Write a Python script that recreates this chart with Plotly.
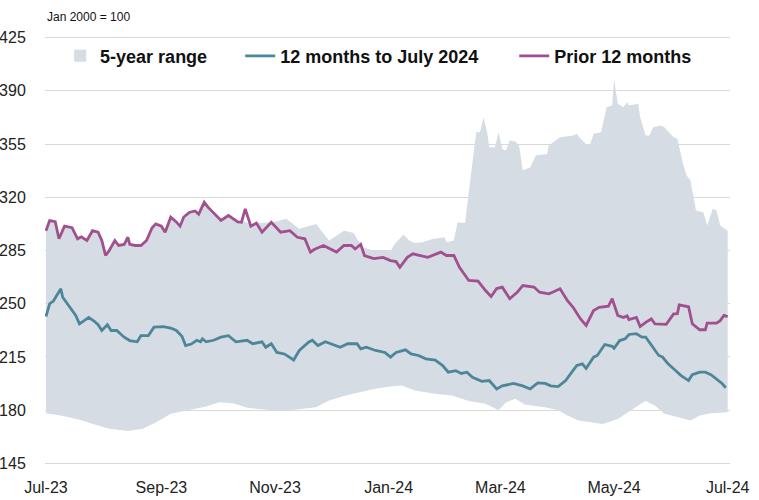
import pandas as pd
import plotly.graph_objects as go

BASE = pd.Timestamp("2023-07-01")

# Prior 12 months (days since 1 Jul 2023, index Jan 2000 = 100)
prior_days = [0, 2, 5, 7, 10, 14, 17, 19, 22, 25, 28, 30, 32, 34, 37, 39, 42, 44, 45, 48,
              51, 54, 57, 59, 62, 64, 67, 70, 72, 74, 77, 80, 82, 85, 87, 90, 94, 98, 103, 105,
              107, 110, 113, 116, 121, 126, 131, 135, 139, 142, 144, 149, 152, 156, 160, 164, 166, 169, 171, 176,
              181, 185, 188, 190, 194, 197, 201, 205, 212, 215, 219, 222, 227, 232, 236, 239, 242, 245, 249, 253,
              256, 262, 265, 270, 272, 276, 280, 283, 287, 290, 294, 297, 302, 304, 307, 310, 312, 313, 317, 319,
              322, 325, 327, 333, 337, 339, 340, 345, 347, 351, 354, 355, 360, 362, 364, 366]
prior_vals = [298, 304.7, 304, 292.7, 301, 300, 292.7, 294, 291.6, 298, 297, 291.6, 281.7, 285, 291.6, 288.3, 289, 293.7, 289, 288.3,
              288.3, 291.6, 300, 302.5, 301, 297, 306.9, 303.8, 301, 307, 310, 311, 308.9, 316.7, 313.5, 309.5, 304.7, 308, 303.8, 303.6,
              312.4, 301, 303, 297, 303.6, 297, 298, 293.7, 292.7, 283.9, 285.6, 288.3, 286.5, 284, 288.3, 288.3, 286, 289, 281.7, 279.7,
              280.5, 278.4, 277.7, 274, 280.5, 282.8, 281.7, 280.5, 283.9, 281.7, 281.7, 274, 265.3, 264.9, 258.7, 254.8, 260, 260.9, 253.3, 257.5,
              262, 261, 257.6, 256.5, 257.6, 259.8, 252, 247.7, 240, 235.7, 245.5, 247.7, 248.4, 253.3, 242.3, 241, 242, 239.6, 241, 235,
              237.8, 240, 236.7, 236.4, 243.3, 243.5, 249.3, 248, 236.8, 232.9, 232.9, 237.3, 237.3, 238.9, 242.3, 241.5]

# 12 months to July 2024
recent_days = [0, 2, 4, 8, 9, 13, 16, 18, 20, 23, 26, 28, 30, 33, 35, 38, 42, 45, 49, 51,
               55, 58, 63, 67, 70, 73, 75, 78, 81, 83, 84, 86, 90, 94, 98, 102, 108, 111, 116, 118,
               121, 124, 128, 133, 136, 141, 143, 146, 150, 153, 158, 162, 167, 169, 172, 177, 182, 185, 188, 193,
               196, 200, 204, 209, 213, 216, 220, 223, 226, 229, 234, 238, 242, 245, 251, 256, 260, 264, 268, 271,
               275, 279, 281, 285, 288, 290, 294, 296, 300, 304, 305, 308, 311, 313, 317, 320, 322, 325, 329, 331,
               334, 338, 341, 345, 347, 351, 354, 357, 360, 363, 365]
recent_vals = [241.6, 250, 251.8, 259.8, 254.3, 247.7, 242.3, 236.8, 238.5, 241, 238.5, 236.2, 232.4, 236.2, 232.4, 232.4, 228, 225.8, 225, 229,
               229, 234.6, 235, 234, 232.4, 228.6, 222.5, 223.5, 226, 225, 227, 225, 226, 228, 229, 225, 226, 223.7, 225, 221.4,
               223.7, 218, 217, 213, 219.3, 224.7, 226, 222.5, 225, 223.7, 221.4, 223.7, 223.7, 220.3, 221.4, 219.3, 218, 214.9, 218, 219.7,
               217, 216, 213.8, 213, 209.4, 205, 206, 204.2, 205, 201.7, 199, 199.5, 194, 196, 197.6, 196, 194, 198, 197.6, 196,
               195.5, 199.5, 202.8, 209.4, 210.5, 207.5, 214.9, 216, 223.2, 222, 220.7, 225.8, 227, 229.8, 230.3, 228, 228, 222.5, 216, 215,
               210.5, 206.1, 202.8, 199.5, 203.4, 205, 205, 203.4, 200.6, 197.6, 194.8]

# 5-year range: upper bound
upper_days = [0, 2, 5, 7, 10, 14, 17, 19, 22, 25, 28, 30, 32, 34, 37, 39, 42, 44, 45, 48,
              51, 54, 57, 59, 62, 64, 67, 70, 72, 74, 77, 80, 82, 85, 87, 90, 94, 98, 103, 107,
              110, 113, 122, 129, 136, 145, 152, 160, 165, 170, 176, 185, 187, 192, 195, 198, 202, 208, 214, 215,
              219, 221, 225, 228, 229, 231, 233, 235, 237, 238, 241, 243, 245, 247, 249, 252, 254, 256, 260, 263,
              269, 270, 276, 283, 285, 287, 290, 292, 294, 298, 301, 304, 305, 307, 310, 312, 313, 318, 319, 322,
              324, 326, 330, 332, 337, 339, 342, 344, 346, 349, 353, 355, 358, 360, 362, 366]
upper_vals = [297, 304, 303.5, 292.5, 300.5, 299.5, 292.5, 293.5, 291, 297.5, 296.5, 291, 281.5, 284.5, 291, 288, 288.5, 293, 288.5, 288,
              288, 291, 299.5, 302, 300.5, 296.5, 306, 303, 300.5, 306, 309, 310, 308, 315, 312.5, 309, 304, 307, 303.8, 304,
              302, 303, 303.6, 305.8, 299.3, 302.5, 291.6, 298, 296.6, 287.2, 285, 284.5, 289, 295.5, 291.6, 290, 290.5, 292.7, 293.7, 290.5,
              291.6, 303.6, 303, 333.2, 342, 362.8, 362.8, 372.6, 361.7, 352.9, 352.7, 362.8, 351.8, 350.7, 357.3, 356.6, 354, 337.6, 339.7, 347.4,
              348.5, 354, 359.5, 360.6, 361.7, 358.4, 355, 354, 361.7, 362.8, 379.2, 380.3, 397.8, 381.4, 379.2, 382.5, 380.3, 381.4, 372.6, 360.6,
              360.6, 366, 367.2, 366, 359.5, 358.4, 342, 334.3, 331, 311.3, 310, 301.4, 312.4, 311.3, 301.4, 298]

# 5-year range: lower bound
lower_days = [0, 8, 18, 28, 34, 44, 52, 59, 67, 76, 86, 93, 101, 108, 113, 122, 133, 145, 152, 161,
              169, 176, 185, 191, 198, 209, 218, 227, 236, 243, 247, 252, 257, 268, 275, 280, 286, 293, 299, 307,
              314, 320, 322, 327, 332, 339, 346, 351, 357, 366]
lower_vals = [178, 176.5, 173.7, 170, 167.8, 166.3, 167.8, 172, 177.7, 180, 182.5, 185.3, 184.5, 181.6, 181, 180, 180.3, 182, 186.4, 189.7,
              191.9, 194, 195.6, 196.3, 193, 190.8, 189.7, 186, 184.3, 180, 185.3, 187.5, 183.7, 182, 180, 176.5, 173.3, 172, 171, 174.3,
              180, 184.8, 186, 183, 177.7, 175.5, 173.3, 176.5, 178, 178.7]

y_ticks = [145, 180, 215, 250, 285, 320, 355, 390, 425]
x_ticks = ["2023-07-01", "2023-09-01", "2023-11-01", "2024-01-01", "2024-03-01", "2024-05-01", "2024-07-01"]
x_tick_labels = ["Jul-23", "Sep-23", "Nov-23", "Jan-24", "Mar-24", "May-24", "Jul-24"]

BAND = "#d6dce4"
BLUE = "#4e8699"
PURPLE = "#a0508e"


def to_dates(days):
    return [BASE + pd.Timedelta(days=d) for d in days]


up_x = to_dates(upper_days)
lo_x = to_dates(lower_days)

fig = go.Figure()
fig.add_trace(go.Scatter(
    x=up_x + lo_x[::-1], y=upper_vals + lower_vals[::-1],
    fill="toself", fillcolor=BAND, line=dict(width=0, color=BAND),
    mode="lines", showlegend=False, hoverinfo="skip"))
fig.add_trace(go.Bar(x=[None], y=[None], marker_color=BAND, name="<b>5-year range</b>",
                     legend="legend"))
fig.add_trace(go.Scatter(x=to_dates(recent_days), y=recent_vals, mode="lines",
                         line=dict(color=BLUE, width=2.8), name="<b>12 months to July 2024</b>",
                         legend="legend2"))
fig.add_trace(go.Scatter(x=to_dates(prior_days), y=prior_vals, mode="lines",
                         line=dict(color=PURPLE, width=2.8), name="<b>Prior 12 months</b>",
                         legend="legend3"))

leg_common = dict(orientation="h", yanchor="middle", y=0.953, xanchor="left",
                  bgcolor="rgba(0,0,0,0)", font=dict(family="Arial", size=18, color="#111111"),
                  itemwidth=30, tracegroupgap=0)

fig.update_layout(
    width=759, height=500,
    margin=dict(l=45, r=29, t=36, b=35, autoexpand=False),
    paper_bgcolor="white", plot_bgcolor="white",
    font=dict(family="Arial", color="#222222"),
    barmode="overlay",
    legend=dict(x=0.022, **leg_common),
    legend2=dict(x=0.285, **leg_common),
    legend3=dict(x=0.685, **leg_common),
    xaxis=dict(type="date", range=["2023-06-30 12:00", "2024-07-02 06:00"], automargin=False,
               tickvals=x_ticks, ticktext=x_tick_labels, showgrid=False, zeroline=False,
               showline=False, ticks="outside", ticklen=8, tickcolor="rgba(0,0,0,0)",
               tickfont=dict(family="Arial", size=16, color="#222222")),
    yaxis=dict(range=[144, 426], tickvals=y_ticks, showgrid=True, gridcolor="#d9d9d9", automargin=False,
               gridwidth=1.4, zeroline=False, showline=False, ticks="outside", ticklen=15,
               tickcolor="rgba(0,0,0,0)", tickfont=dict(family="Arial", size=16, color="#222222")),
    annotations=[dict(text="Jan 2000 = 100", xref="paper", yref="paper", x=0, y=1.044,
                      xanchor="left", yanchor="middle", showarrow=False,
                      font=dict(family="Arial", size=12, color="#111111"))],
)

fig.write_html("out.html", config={"displayModeBar": False},
               post_script="document.body.style.margin='0px';document.body.style.overflow='hidden';")
